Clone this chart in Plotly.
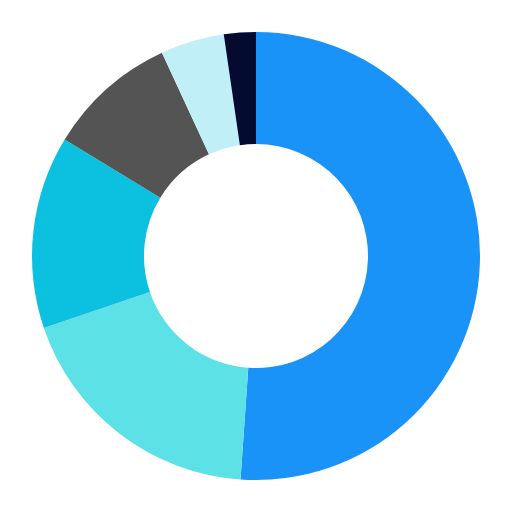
import plotly.graph_objects as go

labels = ["A", "B", "C", "D", "E", "F"]
values = [51.1, 18.7, 13.9, 9.4, 4.6, 2.3]
colors = ["#1a93f8", "#5ce1e6", "#0cc0df", "#545454", "#c1eff7", "#040a30"]

fig = go.Figure(go.Pie(
    labels=labels,
    values=values,
    hole=0.5,
    sort=False,
    direction="clockwise",
    rotation=0,
    marker=dict(colors=colors, line=dict(width=0)),
    textinfo="none",
    hoverinfo="label+percent",
))
fig.update_layout(
    width=512, height=512,
    margin=dict(l=24, r=40, t=24, b=40),
    showlegend=False,
    paper_bgcolor="white",
    plot_bgcolor="white",
)
fig.write_html("out.html")
